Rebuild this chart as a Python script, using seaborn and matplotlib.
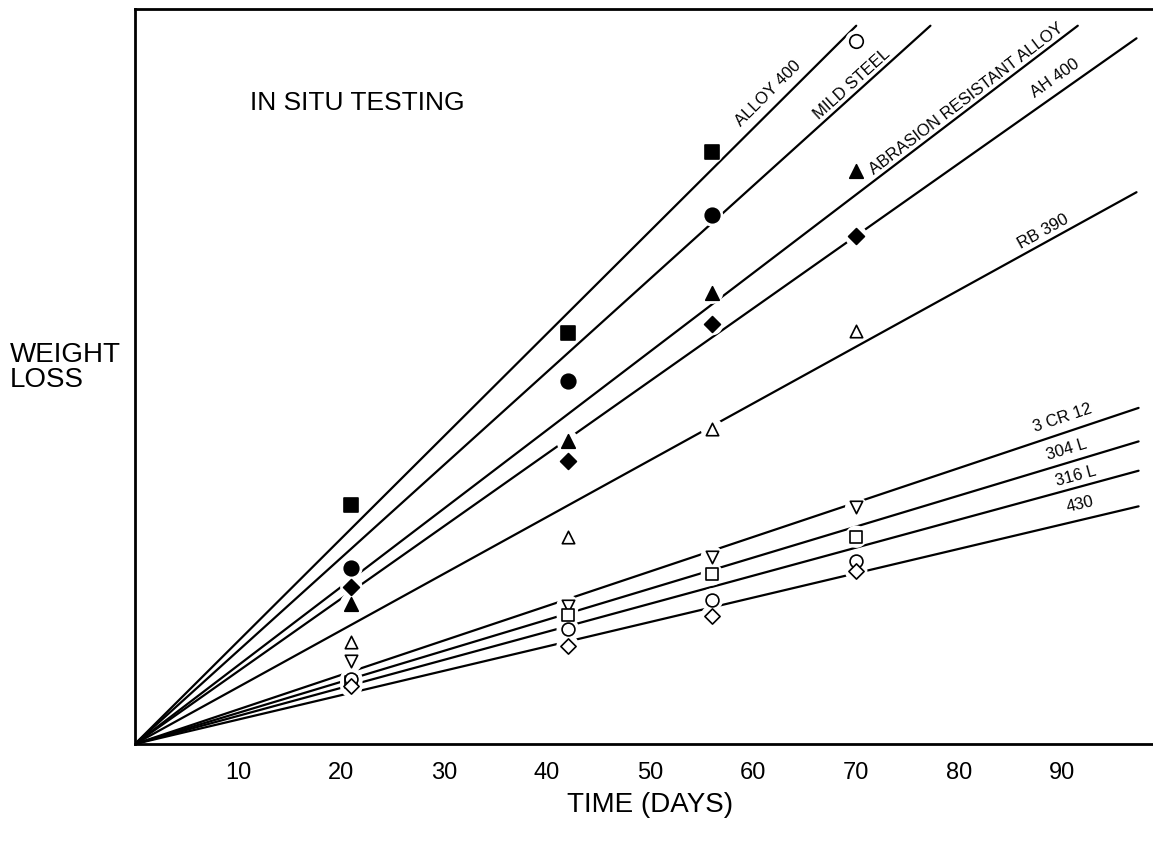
import numpy as np
import pandas as pd
import matplotlib
matplotlib.use("Agg")
import matplotlib.pyplot as plt
import seaborn as sns

# alloys, in order from steepest to flattest fitted line
alloys = ["ALLOY 400", "MILD STEEL", "ABRASION RESISTANT ALLOY", "AH 400",
          "RB 390", "3 CR 12", "304 L", "316 L", "430"]
exposure_days = [21, 42, 56, 70]

# measured weight loss (arbitrary units, one y tick = 1)
loss_alloy400 = [2.28, 3.93, 5.65, np.nan]
loss_mild_steel = [1.68, 3.47, 5.05, np.nan]
loss_abrasion = [1.34, 2.89, 4.31, 5.47]
loss_ah400 = [1.50, 2.70, 4.01, 4.85]
loss_rb390 = [0.97, 1.98, 3.01, 3.94]
loss_3cr12 = [0.79, 1.32, 1.79, 2.26]
loss_304l = [0.59, 1.23, 1.62, 1.98]
loss_316l = [0.62, 1.10, 1.38, 1.75]
loss_430 = [0.55, 0.94, 1.22, 1.65]

# lone open circle near the top at 70 days
stray_days = [70]
stray_loss = [6.71]

# fitted lines through the origin: where each one ends
line_end_day = [70.0, 77.2, 91.5, 97.2, 97.2, 97.4, 97.4, 97.4, 97.4]
line_end_loss = [6.86, 6.86, 6.86, 6.74, 5.27, 3.21, 2.89, 2.61, 2.27]

x_ticks = [10, 20, 30, 40, 50, 60, 70, 80, 90]
y_ticks = [1, 2, 3, 4, 5, 6]

all_losses = [loss_alloy400, loss_mild_steel, loss_abrasion, loss_ah400, loss_rb390,
              loss_3cr12, loss_304l, loss_316l, loss_430]
marker_shapes = ["s", "o", "^", "D", "^", "v", "s", "o", "D"]
marker_fill = ["black"] * 4 + ["white"] * 5
marker_area = [95, 110, 95, 65, 80, 80, 75, 85, 60]

# where the line labels sit (data coords)
label_pos = [(61.5, 6.22), (69.6, 6.31), (80.7, 6.17), (89.3, 6.37), (88.1, 4.90),
             (90.0, 3.12), (90.4, 2.82), (91.3, 2.57), (91.7, 2.30)]

sns.set_theme(style="white")
plt.rcParams["font.family"] = ["Liberation Sans", "DejaVu Sans"]
plt.rcParams["text.color"] = "black"

fig = plt.figure(figsize=(11.53, 8.53), dpi=100)
ax = fig.add_axes([0.117, 0.1266, 0.883, 0.8617])

lines = pd.DataFrame({
    "alloy": np.repeat(alloys, 2),
    "day": np.ravel([[0.0, d] for d in line_end_day]),
    "loss": np.ravel([[0.0, l] for l in line_end_loss]),
})
sns.lineplot(data=lines, x="day", y="loss", units="alloy", estimator=None,
             sort=False, color="black", linewidth=1.6, ax=ax, zorder=2)

# white halos so the lines break around the markers, as in the print
for loss in all_losses:
    sns.scatterplot(x=exposure_days, y=loss, marker="o", s=260, color="white",
                    edgecolor="none", linewidth=0, ax=ax, zorder=3)
sns.scatterplot(x=stray_days, y=stray_loss, marker="o", s=260, color="white",
                edgecolor="none", linewidth=0, ax=ax, zorder=3)

for loss, m, fc, s in zip(all_losses, marker_shapes, marker_fill, marker_area):
    sns.scatterplot(x=exposure_days, y=loss, marker=m, s=s, color=fc,
                    edgecolor="black", linewidth=1.2, ax=ax, zorder=4)
sns.scatterplot(x=stray_days, y=stray_loss, marker="o", s=95, color="white",
                edgecolor="black", linewidth=1.2, ax=ax, zorder=4)

for name, (lx, ly), d_end, l_end in zip(alloys, label_pos, line_end_day, line_end_loss):
    ang = np.degrees(np.arctan2(l_end, d_end))
    ax.text(lx, ly, name, rotation=ang, transform_rotates_text=True,
            rotation_mode="anchor", ha="center", va="center", fontsize=12,
            color="black", zorder=5)

ax.text(21.6, 6.13, "IN SITU TESTING", ha="center", va="center", fontsize=19,
        color="black")

ax.set_xlim(0, 98.8)
ax.set_ylim(0, 7.02)
ax.set_xticks(x_ticks)
ax.set_xticklabels([str(t) for t in x_ticks])
ax.set_yticks(y_ticks)
ax.set_yticklabels([])
ax.set_xlabel("")
ax.set_ylabel("")

ax.tick_params(axis="x", direction="in", length=8, width=1.8, pad=12,
               labelsize=17, colors="black")
ax.tick_params(axis="y", direction="in", length=9, width=1.8, colors="black")
ax.spines["right"].set_visible(False)
for side in ["left", "bottom", "top"]:
    ax.spines[side].set_color("black")
    ax.spines[side].set_linewidth(2.0)

fig.text(0.0087, 0.5686, "WEIGHT\nLOSS", ha="left", va="center", fontsize=20,
         linespacing=0.95, color="black")
fig.text(0.5637, 0.0563, "TIME (DAYS)", ha="center", va="center", fontsize=20,
         color="black")

fig.savefig("out.png", dpi=100)
